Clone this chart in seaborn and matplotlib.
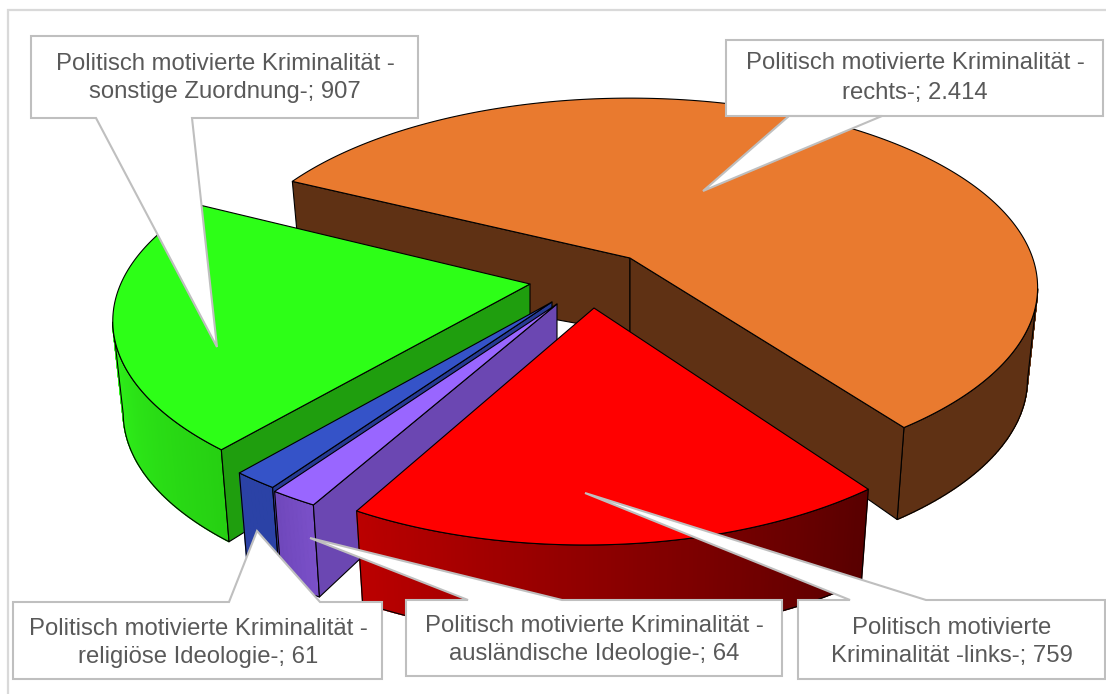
import numpy as np
import matplotlib
matplotlib.use("Agg")
import matplotlib.pyplot as plt
from matplotlib.patches import Polygon, Rectangle
from matplotlib.colors import to_rgb
import seaborn as sns

# ---- data ----
categories = ["rechts", "links", "ausländische Ideologie", "religiöse Ideologie", "sonstige Zuordnung"]
values = [2414, 759, 64, 61, 907]
label_lines = [
    "Politisch motivierte Kriminalität -\nrechts-; 2.414",
    "Politisch motivierte\nKriminalität -links-; 759",
    "Politisch motivierte Kriminalität -\nausländische Ideologie-; 64",
    "Politisch motivierte Kriminalität -\nreligiöse Ideologie-; 61",
    "Politisch motivierte Kriminalität -\nsonstige Zuordnung-; 907",
]

# ---- style ----
top_colors = ["#e97a2f", "#ff0000", "#9966ff", "#3553c8", "#2dff17"]
inner_colors = ["#5f3114", "#a00000", "#6b47b2", "#263a94", "#1f9e0e"]
outer_from = ["#5f3114", "#bb0000", "#7a50c8", "#2b42a6", "#2ff21a"]
outer_to = ["#5f3114", "#580000", "#7048bc", "#2b42a6", "#26d012"]
apex_x = [630, 594, 557, 552, 530]
apex_y = [258, 308, 304, 302, 284]
rim_dx = [0, -9, -1, 2, 0]
rim_dy = [1, 0, -2, -4, -5]
radius = [403, 400, 425, 425, 407]
semi_b = [185, 191, 191, 191, 182]
persp = [0.15, 0.194, 0.194, 0.194, 0.22]
apex_depth = [75, 70, 70, 70, 70]
RIM_DEPTH = 92
START = -153.4

callouts = [
    dict(box=(726, 40, 1103, 116), a=789, tip=(703, 191), b=882, tx=915, ty=(63, 93)),
    dict(box=(798, 600, 1105, 679), a=926, tip=(585, 493), b=850, tx=952, ty=(628, 656)),
    dict(box=(406, 600, 782, 676), a=562, tip=(310, 538), b=468, tx=594, ty=(626, 654)),
    dict(box=(13, 602, 382, 679), a=320, tip=(257, 531), b=229, tx=198, ty=(629, 657)),
    dict(box=(31, 36, 418, 118), a=192, tip=(217, 347), b=96, tx=225, ty=(64, 92)),
]

sns.set_theme(style="white")
plt.rcParams["font.family"] = ["Liberation Sans", "DejaVu Sans"]

fig = plt.figure(figsize=(11.06, 6.94), dpi=100, facecolor="white")
ax = fig.add_axes([0, 0, 1, 1])
ax.set_xlim(0, 1106)
ax.set_ylim(694, 0)
ax.axis("off")

ax.add_patch(Rectangle((7.5, 9.5), 1200, 800, fc="white", ec="#d9d9d9", lw=1.6))


def project(i, th):
    """Top-rim point and its bottom-rim counterpart for angle th (deg, clockwise on screen)."""
    t = np.radians(th)
    x, y = np.cos(t), np.sin(t)
    w = 1 - persp[i] * y
    sx = radius[i] * x / w + rim_dx[i]
    sy = semi_b[i] * y / w + rim_dy[i]
    top = np.column_stack([apex_x[i] + sx, apex_y[i] + sy])
    bot = np.column_stack([apex_x[i] + sx * 0.975, apex_y[i] + sy + RIM_DEPTH])
    return top, bot


angles = np.array(values, float) / sum(values) * 360
starts = START + np.concatenate([[0], np.cumsum(angles)[:-1]])
order = [0, 4, 3, 2, 1]
line = dict(ec="black", lw=0.8, joinstyle="round")

for i in order:
    a0, a1 = starts[i], starts[i] + angles[i]
    ths = np.linspace(a0, a1, max(int(angles[i]) * 2, 6))
    top, bot = project(i, ths)
    c = np.array([apex_x[i], apex_y[i]], float)
    cb = c + [0, apex_depth[i]]
    # outer wall from the rim's side extreme onward, graded along the rim
    c0, c1 = np.array(to_rgb(outer_from[i])), np.array(to_rgb(outer_to[i]))
    front = np.sin(np.radians(ths)) >= persp[i]
    idx = np.where(front)[0]
    for j in idx[:-1]:
        f = (j - idx[0]) / max(idx[-1] - idx[0] - 1, 1)
        if i == 1:
            f = 1 - f
        col = c1 + (c0 - c1) * f if i == 4 else c0 + (c1 - c0) * f
        ax.add_patch(Polygon([top[j], top[j + 1], bot[j + 1], bot[j]], fc=col, ec=col, lw=1.0))
    ax.add_patch(Polygon(np.vstack([top[idx], bot[idx][::-1]]), fc="none", **line))
    # cut faces that look toward the viewer
    if np.sin(np.radians(a0 - 90)) > 0:
        ax.add_patch(Polygon([top[0], c, cb, bot[0]], fc=inner_colors[i], **line))
    if np.sin(np.radians(a1 + 90)) > 0:
        ax.add_patch(Polygon([top[-1], c, cb, bot[-1]], fc=inner_colors[i], **line))
    # top surface
    ax.add_patch(Polygon(np.vstack([c, top]), fc=top_colors[i], **line))

for i, cfg in enumerate(callouts):
    x0, y0, x1, y1 = cfg["box"]
    tip = cfg["tip"]
    if tip[1] > y1:
        pts = [(x0, y0), (x1, y0), (x1, y1), (cfg["a"], y1), tip, (cfg["b"], y1), (x0, y1)]
    else:
        pts = [(x0, y0), (cfg["b"], y0), tip, (cfg["a"], y0), (x1, y0), (x1, y1), (x0, y1)]
    ax.add_patch(Polygon(pts, fc="white", ec="#bfbfbf", lw=1.5, joinstyle="miter", zorder=5))
    for s, yy in zip(label_lines[i].split("\n"), cfg["ty"]):
        ax.text(cfg["tx"], yy, s, ha="center", va="center", fontsize=17.2, color="#595959", zorder=6)

fig.savefig("out.png", dpi=100)
